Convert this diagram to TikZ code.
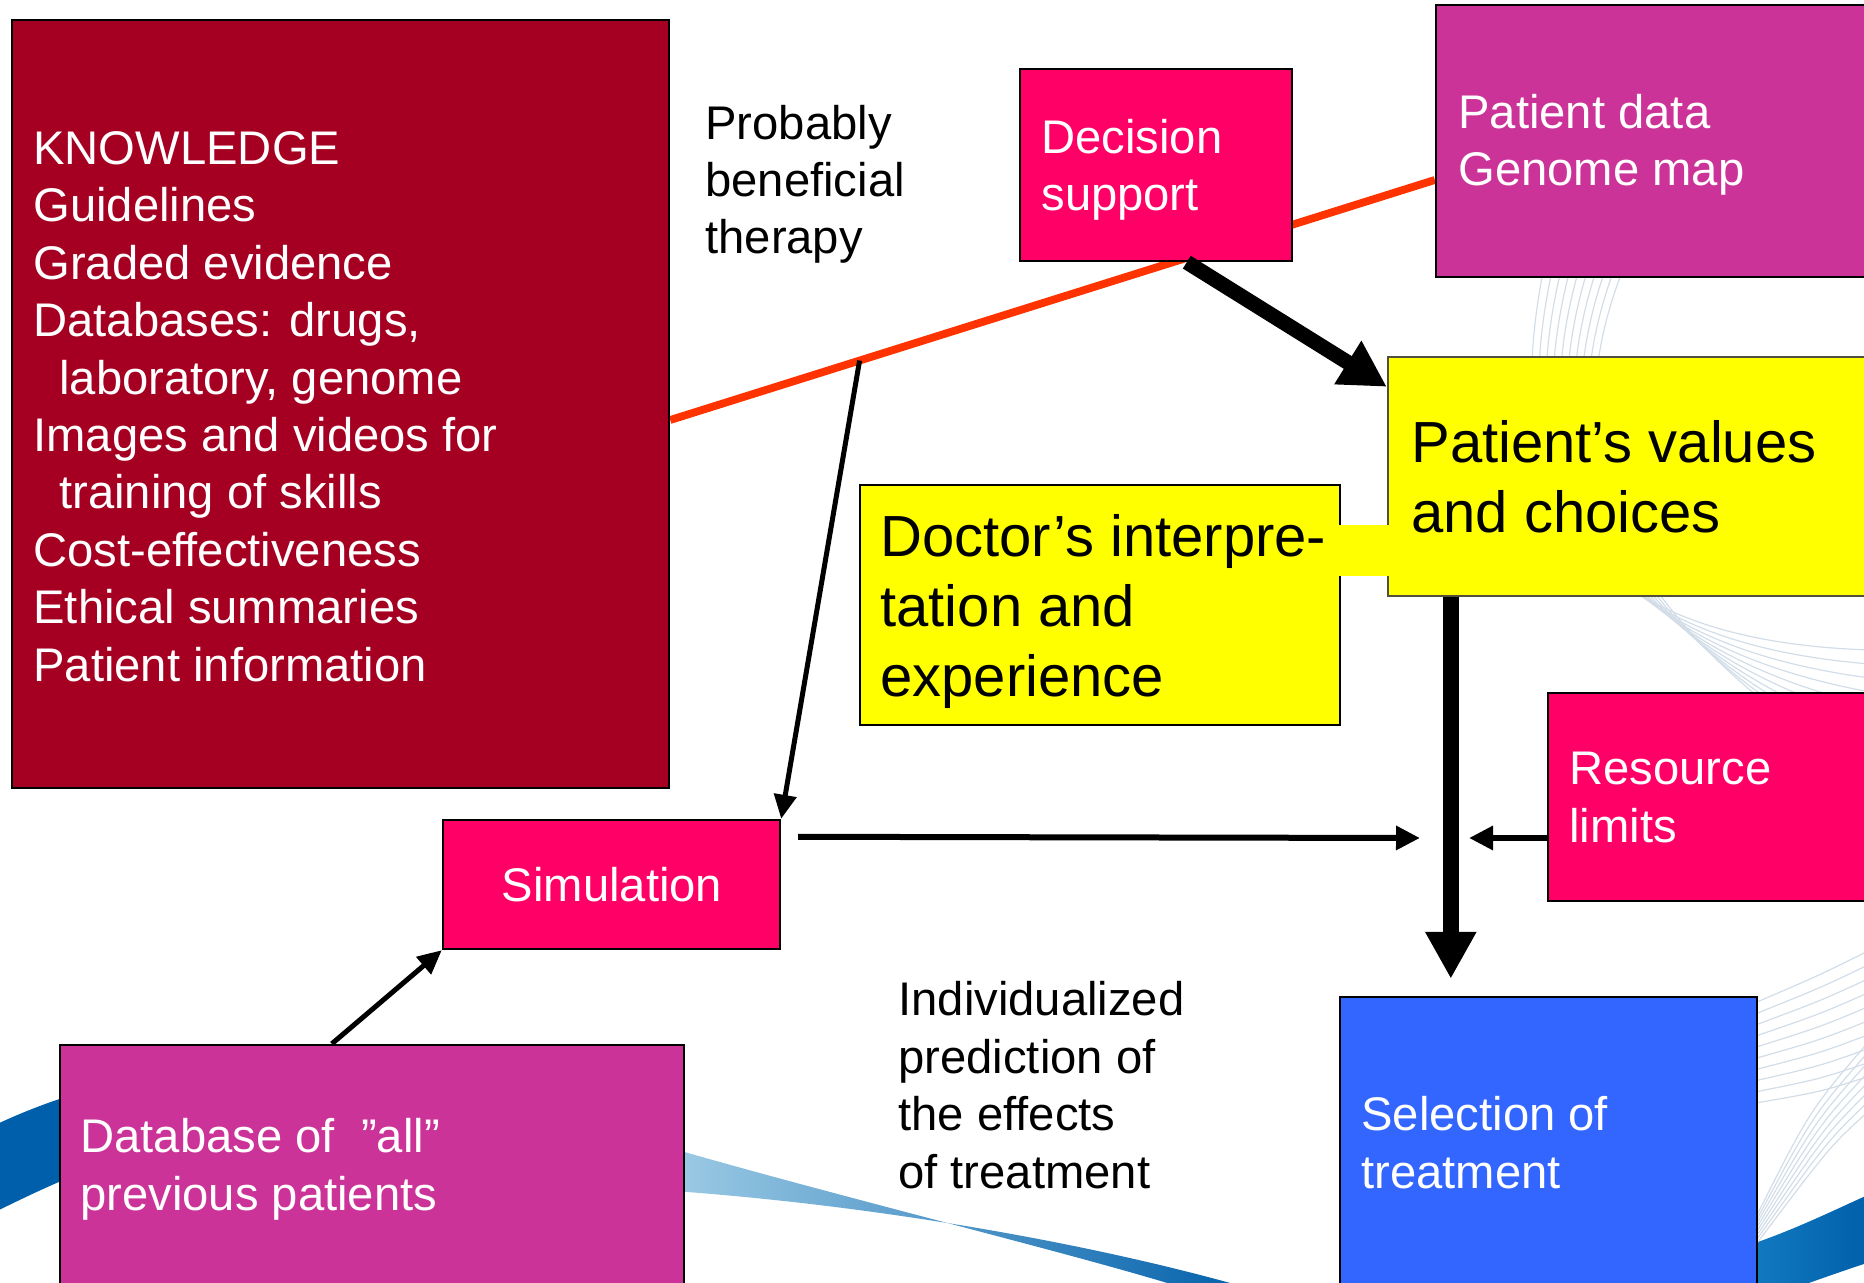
\documentclass[tikz,border=0pt]{standalone}
\usepackage{fontspec}
\setmainfont{Liberation Sans}
\usetikzlibrary{arrows.meta,calc,fit}
\pgfdeclarelayer{bg}
\pgfsetlayers{bg,main}
\definecolor{kred}{RGB}{165,0,33}
\definecolor{pinkb}{RGB}{255,0,102}
\definecolor{magb}{RGB}{204,51,153}
\definecolor{yelb}{RGB}{255,255,0}
\definecolor{blueb}{RGB}{51,102,255}
\definecolor{orline}{RGB}{255,51,0}
\definecolor{swdark}{RGB}{0,95,170}
\definecolor{swmid}{RGB}{20,125,195}
\definecolor{swlight}{RGB}{160,205,230}
\definecolor{swline}{RGB}{210,221,232}
\definecolor{ygray}{RGB}{80,80,60}
\tikzset{
 box/.style={draw=black, line width=1.2pt, inner sep=0pt, rectangle},
 txt/.style={anchor=base west, align=left, inner sep=0pt, font=\fontsize{23.6pt}{28.7pt}\selectfont},
 bigtxt/.style={anchor=base west, align=left, inner sep=0pt, font=\fontsize{29pt}{35pt}\selectfont},
 thinarrow/.style={line width=2.5pt, -{Triangle[length=12pt,width=11pt]}},
 midarrow/.style={line width=3pt, -{Triangle[length=12pt,width=11.5pt]}},
 swl/.style={swline, line width=0.6pt},
}
\begin{document}
\begin{tikzpicture}[x=0.5pt,y=-0.5pt]
\useasboundingbox (0,0) rectangle (1864,1283);
% boxes
\node[box, fill=kred, fit={(12,20) (669,788)}] (know) {};
\node[box, fill=pinkb, fit={(1020,69) (1292,261)}] (dec) {};
\node[box, fill=magb, fit={(1436,5) (1880,277)}] (pdata) {};
\node[box, draw=ygray, fill=yelb, fit={(1388,357) (1880,596)}] (pv) {};
\node[box, fill=yelb, fit={(860,485) (1340,725)}] (doc) {};
\node[fill=yelb, inner sep=0pt, fit={(1338,525) (1390,576)}] (bridge) {};
\node[box, fill=pinkb, fit={(1548,693) (1880,901)}] (res) {};
\node[box, fill=blueb, fit={(1340,997) (1757,1300)}] (sel) {};
\node[box, fill=pinkb, fit={(443,820) (780,949)}] (sim) {};
\node[box, fill=magb, fit={(60,1045) (684,1300)}] (db) {};
% texts (anchored at the baseline of their last line)
\node[txt, text=white] (knowt) at (33,681) {KNOWLEDGE\\Guidelines\\Graded evidence\\Databases: drugs,\\\hspace*{13pt}laboratory, genome\\Images and videos for\\\hspace*{13pt}training of skills\\Cost-effectiveness\\Ethical summaries\\Patient information};
\node[txt] (probt) at (705,254) {Probably\\beneficial\\therapy};
\node[txt, text=white] (dect) at (1041,211) {Decision\\support};
\node[txt, text=white] (pdatat) at (1458,186) {Patient data\\Genome map};
\node[bigtxt] (pvt) at (1411,532.5) {Patient’s values\\and choices};
\node[bigtxt] (doct) at (880,696) {Doctor’s interpre-\\tation and\\experience};
\node[txt, text=white] (rest) at (1569,842) {Resource\\limits};
\node[txt, text=white] (selt) at (1361,1188) {Selection of\\treatment};
\node[txt] (indt) at (898,1188) {Individualized\\prediction of\\the effects\\of treatment};
\node[txt, text=white, anchor=base] (simt) at (612,901.6) {Simulation};
\node[txt, text=white] (dbt) at (80,1210) {Database of\ \ ”all”\\previous patients};
% helper coordinates
\coordinate (y420) at (0,420);
\coordinate (y180) at (0,180);
\coordinate (ol1) at (know.east |- y420);
\coordinate (ol2) at (pdata.west |- y180);
\coordinate (tap) at ($(ol1)!0.2477!(ol2)$);
\coordinate (hj) at (1420,838);
\coordinate (rj) at (1469,838);
% background: swoosh and orange line
\begin{pgfonlayer}{bg}
\fill[swdark] (-5,1125) .. controls (80,1085) and (160,1070) .. (240,1070) -- (240,1140) .. controls (150,1140) and (80,1170) .. (-5,1212) -- cycle;
\shade[left color=swlight, middle color=swmid, right color=swdark] (660,1145) .. controls (850,1200) and (1080,1255) .. (1190,1290) -- (1255,1290) .. controls (1100,1245) and (880,1205) .. (660,1190) -- cycle;
\shade[left color=swmid, right color=swdark] (1740,1248) .. controls (1790,1232) and (1830,1212) .. (1870,1194) -- (1870,1262) .. controls (1830,1275) and (1790,1290) .. (1760,1300) -- (1740,1300) -- cycle;
\foreach \i in {0,...,9} {
 \draw[swl] (1545+9*\i,262) .. controls (1500+4*\i,480) and (1560+10*\i,640) .. (1870,650+14*\i);
 \draw[swl] (1870,950+14*\i) .. controls (1820,975+13*\i) .. (1750,1005+11*\i);
}
\foreach \i in {0,...,7} {
 \draw[swl] (1870,1040+10*\i) .. controls (1810+3*\i,1110+5*\i) .. (1757,1215+4*\i);
}
\draw[orline, line width=3.9pt] (ol1) -- (ol2);
\end{pgfonlayer}
% arrows
\draw[thinarrow] (tap) -- (sim.north east);
\draw[line width=7.5pt, -{Triangle[length=23pt,width=24pt]}] ($(dec.south west)+(168,0)$) -- ($(pv.north west)+(0,31)$);
\draw[line width=8pt, -{Triangle[length=23.5pt,width=24pt]}] ($(pv.south west)+(64,0)$) -- ($(sel.north west)+(112,-17)$);
\draw[midarrow] ($(sim.north east)+(17,18)$) -- (hj);
\draw[midarrow] (res.west |- hj) -- (rj);
\draw[thinarrow] ($(db.north west)+(273,0)$) -- (sim.south west);
\end{tikzpicture}
\end{document}
